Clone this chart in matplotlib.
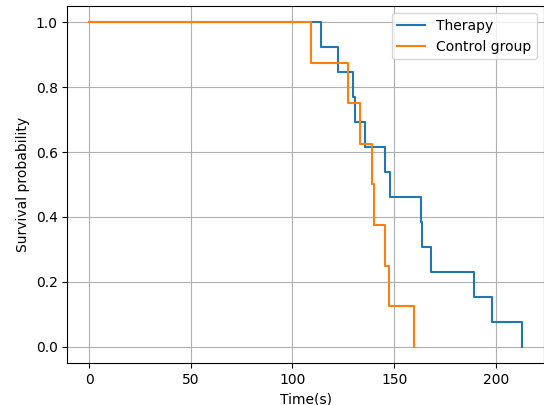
import matplotlib
matplotlib.use("Agg")
import matplotlib.pyplot as plt
import numpy as np

therapy_times = [114.1, 122.4, 129.6, 130.7, 135.6, 145.7, 148.2, 163.1, 163.6, 168.0, 189.2, 198.2, 212.9]
control_times = [109.1, 127.4, 133.2, 139.2, 139.9, 145.6, 147.6, 159.8]


def km_curve(times):
    times = np.sort(np.asarray(times, dtype=float))
    n = len(times)
    at_risk = n - np.arange(n)
    surv = np.cumprod(1.0 - 1.0 / at_risk)
    t = np.concatenate([[0.0], times])
    s = np.concatenate([[1.0], surv])
    return t, s


fig, ax = plt.subplots(figsize=(5.44, 4.05), dpi=100)
t, s = km_curve(therapy_times)
ax.step(t, s, where="post", label="Therapy")
t, s = km_curve(control_times)
ax.step(t, s, where="post", label="Control group")
ax.set_xlabel("Time(s)")
ax.set_ylabel("Survival probability")
ax.grid(True)
ax.legend(loc="upper right")
fig.subplots_adjust(left=0.124, right=0.9995, top=0.985, bottom=0.104)
fig.savefig("out.png", dpi=100)
